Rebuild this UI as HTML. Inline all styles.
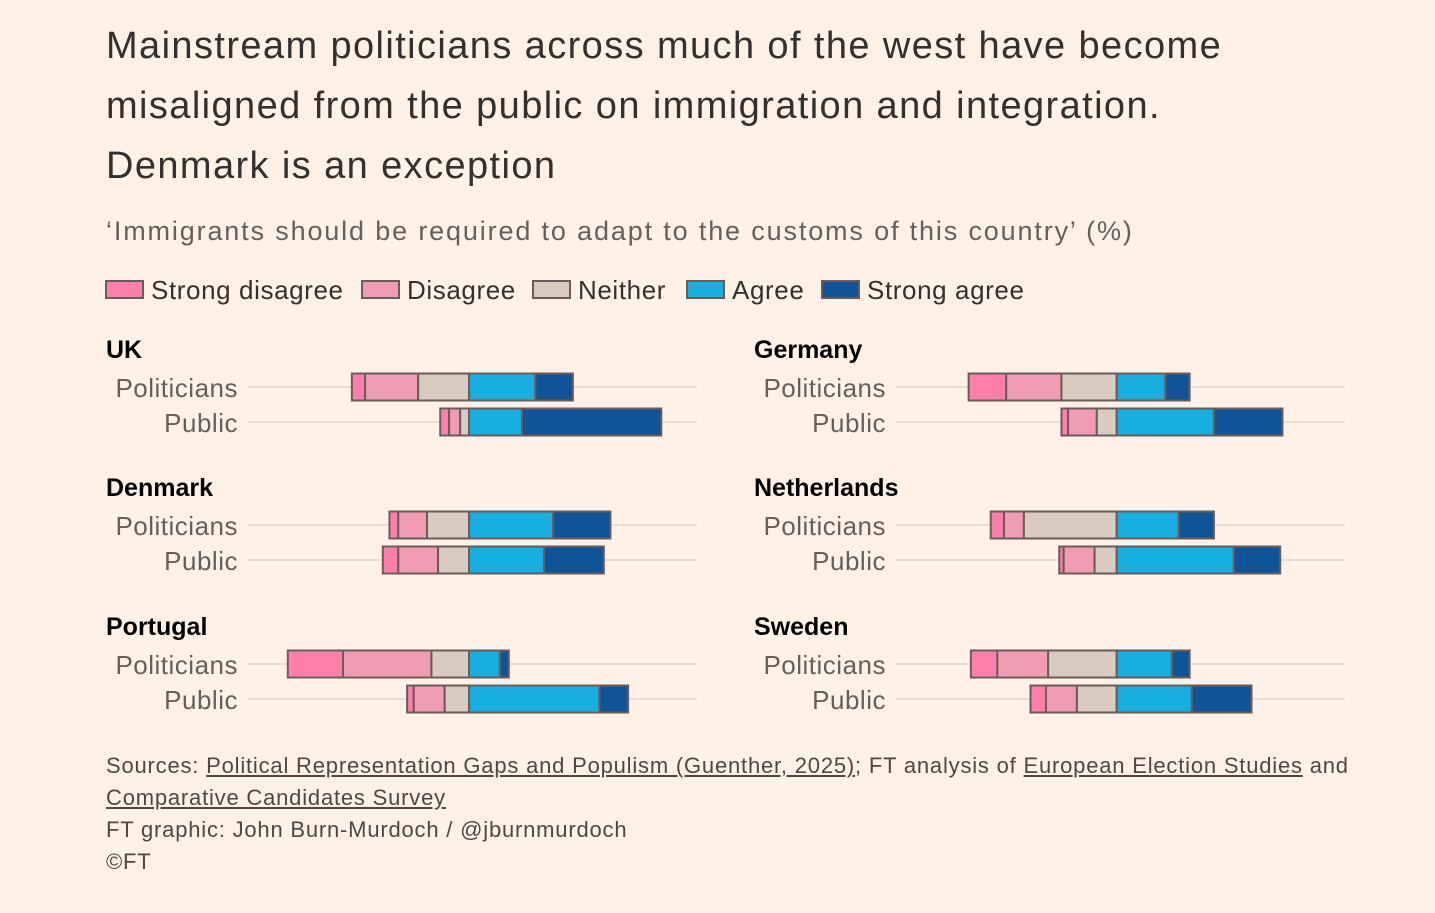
<!DOCTYPE html>
<html><head><meta charset="utf-8"><style>
body{margin:0;background:#fff1e5;width:1435px;height:913px;overflow:hidden;font-family:"Liberation Sans",sans-serif}
.t{position:absolute;left:106px;white-space:nowrap}
</style></head><body>
<div class="t" style="top:16px;font-size:38px;letter-spacing:1.4px;line-height:60px;color:#33302e">Mainstream politicians across much of the west have become<br>misaligned from the public on immigration and integration.<br>Denmark is an exception</div>
<div class="t" style="top:216px;font-size:27px;letter-spacing:1.85px;color:#66605c">‘Immigrants should be required to adapt to the customs of this country’ (%)</div>
<svg id="c" width="1435" height="913" style="position:absolute;left:0;top:0"></svg>
<div class="t" style="top:750px;font-size:22px;letter-spacing:0.8px;line-height:32px;color:#4d4845">Sources: <u>Political Representation Gaps and Populism (Guenther, 2025)</u>; FT analysis of <u>European Election Studies</u> and<br><u>Comparative Candidates Survey</u><br>FT graphic: John Burn-Murdoch / @jburnmurdoch<br>©FT</div>
<script>
const countries=["UK","Germany","Denmark","Netherlands","Portugal","Sweden"];
const categories=["Strong disagree","Disagree","Neither","Agree","Strong agree"];
const politicians=[[6,24,23,30,17],[17,25,25,22,11],[4,13,19,38,26],[6,9,42,28,16],[25,40,17,14,4],[12,23,31,25,8]];
const publicV=[[4,5,4,24,63],[3,13,9,44,31],[7,18,14,34,27],[2,14,10,53,21],[3,14,11,59,13],[7,14,18,34,27]];
const colors=["#ff7faa","#f09cb2","#d9cbc0","#17aee0","#0f5499"];
const NS="http://www.w3.org/2000/svg";
const svg=document.getElementById('c');
function mk(t,a,txt){const e=document.createElementNS(NS,t);for(const k in a)e.setAttribute(k,a[k]);if(txt!==undefined)e.textContent=txt;svg.appendChild(e);return e;}
const pxPer=2.21;
const legX=[106,362,533,687,822];
categories.forEach((c,i)=>{
  const r=mk('rect',{x:legX[i],y:281,width:37,height:17,fill:colors[i],stroke:'#6b5b5b','stroke-width':2});
  
  
  const t=mk('text',{x:legX[i]+45,y:299,'font-size':26,'letter-spacing':0.6,fill:'#33302e'},c);
  
  
});
function xs(center,v){return center+v*pxPer;}
countries.forEach((cn,ci)=>{
  const col=ci%2,row=Math.floor(ci/2);
  const px=col?754:106, center=col?1116.7:469, gx0=col?896:248, gx1=col?1345:697, lab=col?886:238;
  const ty=[358,496,635][row];
  const t=mk('text',{x:px,y:ty,'font-size':25,'font-weight':'bold',fill:'#000'},cn);
  
  
  [[politicians[ci],'Politicians',ty+29],[publicV[ci],'Public',ty+64]].forEach(([vals,name,cy])=>{
    const g=mk('line',{x1:gx0,x2:gx1,y1:cy,y2:cy,stroke:'#e9dcd0','stroke-width':2});
    
    
    const l=mk('text',{x:lab,y:cy+10,'font-size':26,'letter-spacing':0.5,fill:'#66605c','text-anchor':'end'},name);
    
    
    let x=xs(center,-(vals[0]+vals[1]+vals[2]));
    vals.forEach((v,i)=>{
      const w=v*pxPer;
      const r=mk('rect',{x:x,y:cy-13.5,width:w,height:27,fill:colors[i],stroke:'#6b5b5b','stroke-width':2});
      
      
      x+=w;
    });
  });
});
</script>
</body></html>
